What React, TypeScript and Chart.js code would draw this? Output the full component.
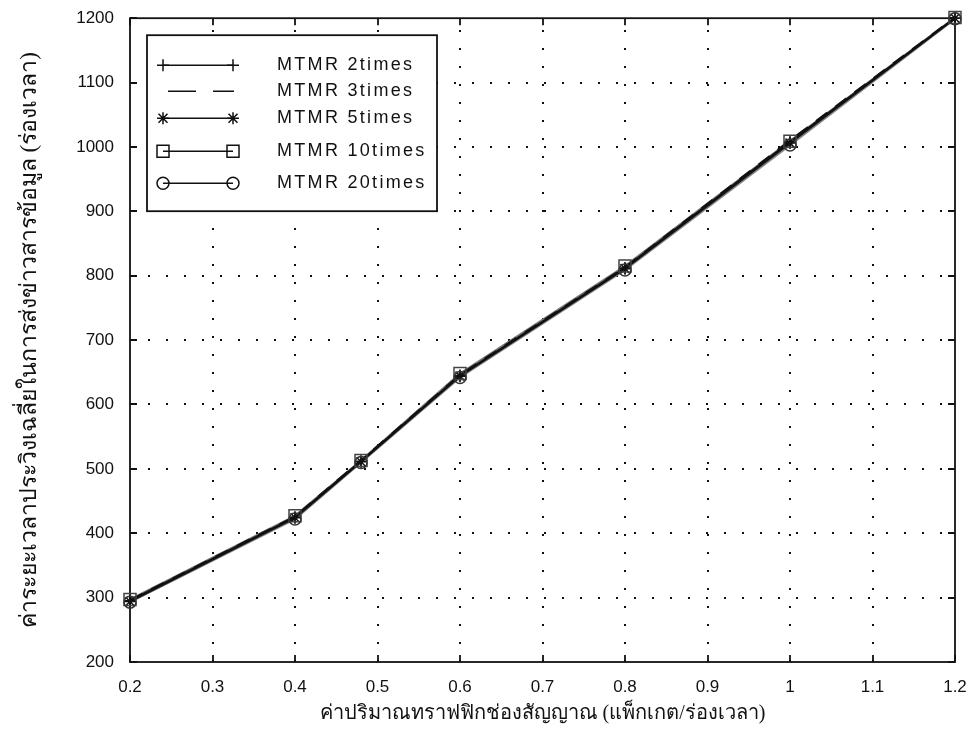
import React, { useEffect, useRef } from "react";
import { Chart, registerables } from "chart.js";

Chart.register(...registerables);

const xValues = [0.2, 0.4, 0.48, 0.6, 0.8, 1.0, 1.2];
const seriesNames = ["MTMR 2times", "MTMR 3times", "MTMR 5times", "MTMR 10times", "MTMR 20times"];
const mtmr2 = [295, 425, 512, 645, 812, 1008, 1200];
const mtmr3 = [296, 426, 513, 646, 813, 1010, 1201];
const mtmr5 = [294, 424, 511, 644, 811, 1006, 1200];
const mtmr10 = [297, 427, 513, 648, 815, 1009, 1201];
const mtmr20 = [293, 422, 510, 642, 809, 1003, 1199];
const xTicks = [0.2, 0.3, 0.4, 0.5, 0.6, 0.7, 0.8, 0.9, 1.0, 1.1, 1.2];
const yTicks = [200, 300, 400, 500, 600, 700, 800, 900, 1000, 1100, 1200];
const xTitle = "ค่าปริมาณทราฟฟิกช่องสัญญาณ (แพ็กเกต/ร่องเวลา)";
const yTitle = "ค่าระยะเวลาประวิงเฉลี่ยในการส่งข่าวสารข้อมูล (ร่องเวลา)";

const marks = ["cross", "none", "star", "rect", "circle"];
const lineColors = ["#111", "#111", "#222", "#777", "#888"];
const markColors = ["#111", "#111", "#111", "#444", "#333"];

function toPts(vals: number[]) {
  return vals.map((v, i) => ({ x: xValues[i], y: v }));
}

function drawMark(ctx: CanvasRenderingContext2D, kind: string, x: number, y: number, r: number, color: string) {
  ctx.save();
  ctx.strokeStyle = color;
  ctx.lineWidth = 1.5;
  ctx.setLineDash([]);
  ctx.beginPath();
  if (kind === "cross") {
    ctx.moveTo(x - r, y); ctx.lineTo(x + r, y);
    ctx.moveTo(x, y - r); ctx.lineTo(x, y + r);
  } else if (kind === "star") {
    ctx.moveTo(x - r, y); ctx.lineTo(x + r, y);
    ctx.moveTo(x, y - r); ctx.lineTo(x, y + r);
    const d = r * 0.75;
    ctx.moveTo(x - d, y - d); ctx.lineTo(x + d, y + d);
    ctx.moveTo(x - d, y + d); ctx.lineTo(x + d, y - d);
  } else if (kind === "rect") {
    ctx.rect(x - r, y - r, 2 * r, 2 * r);
  } else if (kind === "circle") {
    ctx.arc(x, y, r, 0, Math.PI * 2);
  }
  ctx.stroke();
  ctx.restore();
}

const framePlugin = {
  id: "frame",
  beforeDatasetsDraw(chart: any) {
    const { ctx, chartArea } = chart;
    const xs = chart.scales.x;
    const ys = chart.scales.y;
    const { left, right, top, bottom } = chartArea;
    ctx.save();
    ctx.strokeStyle = "#111";
    ctx.lineWidth = 2;
    ctx.setLineDash([2, 16]);
    xTicks.slice(1, -1).forEach((t) => {
      const px = Math.round(xs.getPixelForValue(t));
      ctx.beginPath(); ctx.moveTo(px, bottom); ctx.lineTo(px, top); ctx.stroke();
    });
    yTicks.slice(1, -1).forEach((t) => {
      const py = Math.round(ys.getPixelForValue(t));
      ctx.beginPath(); ctx.moveTo(left, py); ctx.lineTo(right, py); ctx.stroke();
    });
    ctx.setLineDash([]);
    ctx.lineWidth = 1.8;
    ctx.strokeRect(left, top, right - left, bottom - top);
    const tl = 7;
    ctx.beginPath();
    xTicks.forEach((t) => {
      const px = Math.round(xs.getPixelForValue(t));
      ctx.moveTo(px, bottom); ctx.lineTo(px, bottom - tl);
      ctx.moveTo(px, top); ctx.lineTo(px, top + tl);
    });
    yTicks.forEach((t) => {
      const py = Math.round(ys.getPixelForValue(t));
      ctx.moveTo(left, py); ctx.lineTo(left + tl, py);
      ctx.moveTo(right, py); ctx.lineTo(right - tl, py);
    });
    ctx.stroke();
    ctx.restore();
  },
  afterDatasetsDraw(chart: any) {
    const { ctx } = chart;
    const xs = chart.scales.x;
    const ys = chart.scales.y;
    const all = [mtmr2, mtmr3, mtmr5, mtmr10, mtmr20];
    all.forEach((vals, si) => {
      if (marks[si] === "none") return;
      vals.forEach((v, i) => {
        drawMark(ctx, marks[si], xs.getPixelForValue(xValues[i]), ys.getPixelForValue(v), 6, markColors[si]);
      });
    });
  },
  afterDraw(chart: any) {
    const { ctx, chartArea } = chart;
    const bx = chartArea.left + 17;
    const by = chartArea.top + 17;
    const bw = 290;
    const bh = 176;
    ctx.save();
    ctx.fillStyle = "#fff";
    ctx.fillRect(bx, by, bw, bh);
    ctx.strokeStyle = "#111";
    ctx.lineWidth = 1.8;
    ctx.strokeRect(bx, by, bw, bh);
    const rows = [30, 56, 83, 116, 148];
    ctx.font = "18px 'Liberation Sans', Arial, sans-serif";
    (ctx as any).letterSpacing = "2.3px";
    ctx.fillStyle = "#111";
    ctx.textBaseline = "middle";
    seriesNames.forEach((name, i) => {
      const y = by + rows[i];
      const x1 = bx + 16;
      const x2 = bx + 86;
      ctx.strokeStyle = "#111";
      ctx.lineWidth = 1.5;
      if (marks[i] === "none") {
        ctx.beginPath();
        ctx.moveTo(x1 + 5, y); ctx.lineTo(x1 + 33, y);
        ctx.moveTo(x1 + 50, y); ctx.lineTo(x2 + 1, y);
        ctx.stroke();
      } else {
        ctx.beginPath(); ctx.moveTo(x1, y); ctx.lineTo(x2, y); ctx.stroke();
        drawMark(ctx, marks[i], x1, y, 6, "#111");
        drawMark(ctx, marks[i], x2, y, 6, "#111");
      }
      ctx.fillText(name, bx + 130, y);
    });
    (ctx as any).letterSpacing = "0px";
    ctx.restore();
  },
};

export default function App() {
  const ref = useRef<HTMLCanvasElement | null>(null);
  useEffect(() => {
    document.body.style.margin = "0";
    const c = ref.current;
    if (!c) return;
    const datasets = [mtmr2, mtmr3, mtmr5, mtmr10, mtmr20].map((vals, i) => ({
      label: seriesNames[i],
      data: toPts(vals),
      borderColor: lineColors[i],
      borderWidth: 2.2,
      borderDash: marks[i] === "none" ? [14, 10] : [],
      pointRadius: 0,
      fill: false,
      tension: 0,
    }));
    const chart = new Chart(c, {
      type: "line",
      data: { datasets },
      plugins: [framePlugin],
      options: {
        animation: false,
        responsive: false,
        devicePixelRatio: 1,
        layout: { padding: { top: 15, right: 20, left: 0, bottom: 0 } },
        plugins: { legend: { display: false }, tooltip: { enabled: false } },
        scales: {
          x: {
            type: "linear",
            min: 0.2,
            max: 1.2,
            afterBuildTicks: (s: any) => { s.ticks = xTicks.map((v) => ({ value: v })); },
            afterFit: (s: any) => { s.height = 78; },
            grid: { display: false },
            border: { display: false },
            ticks: {
              color: "#111",
              padding: 7,
              font: { family: "'Liberation Sans', Arial, sans-serif", size: 17 },
              callback: (v: any) => String(Math.round(Number(v) * 10) / 10),
            },
            title: {
              display: true,
              text: xTitle,
              color: "#111",
              padding: { top: 0, bottom: 14 },
              font: { family: "'Liberation Serif', serif", size: 20 },
            },
          },
          y: {
            type: "linear",
            min: 200,
            max: 1200,
            afterBuildTicks: (s: any) => { s.ticks = yTicks.map((v) => ({ value: v })); },
            afterFit: (s: any) => { s.width = 130; },
            grid: { display: false },
            border: { display: false },
            ticks: {
              color: "#111",
              padding: 8,
              font: { family: "'Liberation Sans', Arial, sans-serif", size: 17 },
              callback: (v: any) => String(Math.round(Number(v))),
            },
            title: {
              display: true,
              text: yTitle,
              color: "#111",
              padding: { top: 16, bottom: 0 },
              font: { family: "'Liberation Serif', serif", size: 23 },
            },
          },
        },
      },
    } as any);
    return () => chart.destroy();
  }, []);
  return <canvas ref={ref} width={975} height={740} style={{ display: "block" }} />;
}
